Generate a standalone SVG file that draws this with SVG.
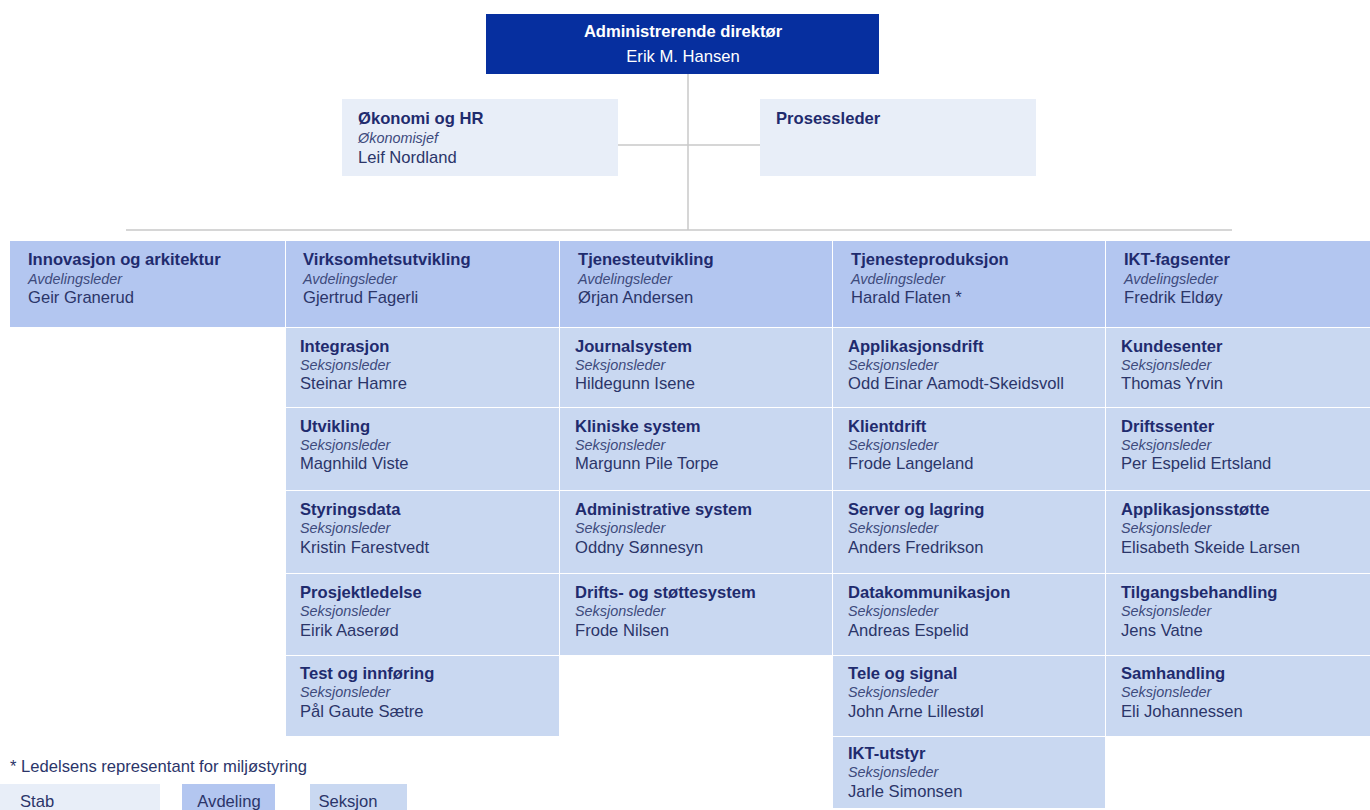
<svg xmlns="http://www.w3.org/2000/svg" width="1370" height="810" viewBox="0 0 1370 810">
<style>
text{font-family:"Liberation Sans",Arial,sans-serif}
.t{font-size:16.6px;font-weight:bold;fill:#1f2b6e}
.r{font-size:14.4px;font-style:italic;fill:#3d4a7c}
.n{font-size:16.6px;fill:#2b3569}
.w{fill:#ffffff;font-size:16.6px}
.wb{fill:#ffffff;font-size:16.6px;font-weight:bold}
.stab{fill:#e8eef8}
.avd{fill:#b3c6f0}
.sek{fill:#c9d8f1}
.ln{stroke:#c8c8c8;stroke-width:1.5;fill:none}
</style>
<rect width="1370" height="810" fill="#ffffff"/>
<g id="connectors">
<line class="ln" x1="688" y1="74" x2="688" y2="230"/>
<line class="ln" x1="126" y1="230" x2="1232" y2="230"/>
<line class="ln" x1="618" y1="145" x2="760" y2="145"/>
</g>
<g id="ceo">
<rect x="486" y="14" width="393" height="60" fill="#062f9f"/>
<text class="wb" x="683" y="37" text-anchor="middle">Administrerende direktør</text>
<text class="w" x="683" y="62" text-anchor="middle">Erik M. Hansen</text>
</g>
<g id="okonomi">
<rect class="stab" x="342" y="99" width="276" height="77"/>
<text class="t" x="358" y="124">Økonomi  og HR</text>
<text class="r" x="358" y="143">Økonomisjef</text>
<text class="n" x="358" y="163">Leif Nordland</text>
</g>
<g id="prosessleder">
<rect class="stab" x="760" y="99" width="276" height="77"/>
<text class="t" x="776" y="124">Prosessleder</text>
</g>
<g id="innovasjon">
<rect class="avd" x="10" y="241" width="275" height="86"/>
<text class="t" x="28" y="265">Innovasjon og arkitektur</text>
<text class="r" x="28" y="284">Avdelingsleder</text>
<text class="n" x="28" y="303">Geir Granerud</text>
</g>
<g id="virksomhetsutvikling">
<rect class="avd" x="286" y="241" width="273" height="86"/>
<text class="t" x="303" y="265">Virksomhetsutvikling</text>
<text class="r" x="303" y="284">Avdelingsleder</text>
<text class="n" x="303" y="303">Gjertrud Fagerli</text>
</g>
<g id="tjenesteutvikling">
<rect class="avd" x="560" y="241" width="272" height="86"/>
<text class="t" x="578" y="265">Tjenesteutvikling</text>
<text class="r" x="578" y="284">Avdelingsleder</text>
<text class="n" x="578" y="303">Ørjan Andersen</text>
</g>
<g id="tjenesteproduksjon">
<rect class="avd" x="833" y="241" width="272" height="86"/>
<text class="t" x="851" y="265">Tjenesteproduksjon</text>
<text class="r" x="851" y="284">Avdelingsleder</text>
<text class="n" x="851" y="303">Harald Flaten *</text>
</g>
<g id="iktfagsenter">
<rect class="avd" x="1106" y="241" width="264" height="86"/>
<text class="t" x="1124" y="265">IKT-fagsenter</text>
<text class="r" x="1124" y="284">Avdelingsleder</text>
<text class="n" x="1124" y="303">Fredrik Eldøy</text>
</g>
<!-- Column 2 sections -->
<g id="integrasjon"><rect class="sek" x="286" y="328" width="273" height="79"/>
<text class="t" x="300" y="352">Integrasjon</text><text class="r" x="300" y="370">Seksjonsleder</text><text class="n" x="300" y="389">Steinar Hamre</text></g>
<g id="utvikling"><rect class="sek" x="286" y="408" width="273" height="82"/>
<text class="t" x="300" y="432">Utvikling</text><text class="r" x="300" y="450">Seksjonsleder</text><text class="n" x="300" y="469">Magnhild Viste</text></g>
<g id="styringsdata"><rect class="sek" x="286" y="491" width="273" height="82"/>
<text class="t" x="300" y="515">Styringsdata</text><text class="r" x="300" y="533">Seksjonsleder</text><text class="n" x="300" y="553">Kristin Farestvedt</text></g>
<g id="prosjektledelse"><rect class="sek" x="286" y="574" width="273" height="81"/>
<text class="t" x="300" y="598">Prosjektledelse</text><text class="r" x="300" y="616">Seksjonsleder</text><text class="n" x="300" y="636">Eirik Aaserød</text></g>
<g id="test"><rect class="sek" x="286" y="656" width="273" height="80"/>
<text class="t" x="300" y="679">Test og innføring</text><text class="r" x="300" y="697">Seksjonsleder</text><text class="n" x="300" y="717">Pål Gaute Sætre</text></g>
<!-- Column 3 -->
<g id="journalsystem"><rect class="sek" x="560" y="328" width="272" height="79"/>
<text class="t" x="575" y="352">Journalsystem</text><text class="r" x="575" y="370">Seksjonsleder</text><text class="n" x="575" y="389">Hildegunn Isene</text></g>
<g id="kliniske"><rect class="sek" x="560" y="408" width="272" height="82"/>
<text class="t" x="575" y="432">Kliniske system</text><text class="r" x="575" y="450">Seksjonsleder</text><text class="n" x="575" y="469">Margunn Pile Torpe</text></g>
<g id="administrative"><rect class="sek" x="560" y="491" width="272" height="82"/>
<text class="t" x="575" y="515">Administrative system</text><text class="r" x="575" y="533">Seksjonsleder</text><text class="n" x="575" y="553">Oddny Sønnesyn</text></g>
<g id="drifts"><rect class="sek" x="560" y="574" width="272" height="81"/>
<text class="t" x="575" y="598">Drifts- og støttesystem</text><text class="r" x="575" y="616">Seksjonsleder</text><text class="n" x="575" y="636">Frode Nilsen</text></g>
<!-- Column 4 -->
<g id="applikasjonsdrift"><rect class="sek" x="833" y="328" width="272" height="79"/>
<text class="t" x="848" y="352">Applikasjonsdrift</text><text class="r" x="848" y="370">Seksjonsleder</text><text class="n" x="848" y="389">Odd Einar Aamodt-Skeidsvoll</text></g>
<g id="klientdrift"><rect class="sek" x="833" y="408" width="272" height="82"/>
<text class="t" x="848" y="432">Klientdrift</text><text class="r" x="848" y="450">Seksjonsleder</text><text class="n" x="848" y="469">Frode Langeland</text></g>
<g id="server"><rect class="sek" x="833" y="491" width="272" height="82"/>
<text class="t" x="848" y="515">Server og lagring</text><text class="r" x="848" y="533">Seksjonsleder</text><text class="n" x="848" y="553">Anders Fredrikson</text></g>
<g id="datakommunikasjon"><rect class="sek" x="833" y="574" width="272" height="81"/>
<text class="t" x="848" y="598">Datakommunikasjon</text><text class="r" x="848" y="616">Seksjonsleder</text><text class="n" x="848" y="636">Andreas Espelid</text></g>
<g id="tele"><rect class="sek" x="833" y="656" width="272" height="80"/>
<text class="t" x="848" y="679">Tele og signal</text><text class="r" x="848" y="697">Seksjonsleder</text><text class="n" x="848" y="717">John Arne Lillestøl</text></g>
<g id="iktutstyr"><rect class="sek" x="833" y="737" width="272" height="71"/>
<text class="t" x="848" y="759">IKT-utstyr</text><text class="r" x="848" y="777">Seksjonsleder</text><text class="n" x="848" y="797">Jarle Simonsen</text></g>
<!-- Column 5 -->
<g id="kundesenter"><rect class="sek" x="1106" y="328" width="264" height="79"/>
<text class="t" x="1121" y="352">Kundesenter</text><text class="r" x="1121" y="370">Seksjonsleder</text><text class="n" x="1121" y="389">Thomas Yrvin</text></g>
<g id="driftssenter"><rect class="sek" x="1106" y="408" width="264" height="82"/>
<text class="t" x="1121" y="432">Driftssenter</text><text class="r" x="1121" y="450">Seksjonsleder</text><text class="n" x="1121" y="469">Per Espelid Ertsland</text></g>
<g id="applikasjonsstotte"><rect class="sek" x="1106" y="491" width="264" height="82"/>
<text class="t" x="1121" y="515">Applikasjonsstøtte</text><text class="r" x="1121" y="533">Seksjonsleder</text><text class="n" x="1121" y="553">Elisabeth Skeide Larsen</text></g>
<g id="tilgangsbehandling"><rect class="sek" x="1106" y="574" width="264" height="81"/>
<text class="t" x="1121" y="598">Tilgangsbehandling</text><text class="r" x="1121" y="616">Seksjonsleder</text><text class="n" x="1121" y="636">Jens Vatne</text></g>
<g id="samhandling"><rect class="sek" x="1106" y="656" width="264" height="80"/>
<text class="t" x="1121" y="679">Samhandling</text><text class="r" x="1121" y="697">Seksjonsleder</text><text class="n" x="1121" y="717">Eli Johannessen</text></g>
<!-- Legend -->
<g id="legend">
<text class="n" x="10" y="772">* Ledelsens representant for miljøstyring</text>
<rect class="stab" x="0" y="784" width="160" height="26"/>
<text class="n" x="20" y="807">Stab</text>
<rect class="avd" x="182" y="784" width="93" height="26"/>
<text class="n" x="229" y="807" text-anchor="middle">Avdeling</text>
<rect class="sek" x="310" y="784" width="97" height="26"/>
<text class="n" x="348" y="807" text-anchor="middle">Seksjon</text>
</g>
</svg>
